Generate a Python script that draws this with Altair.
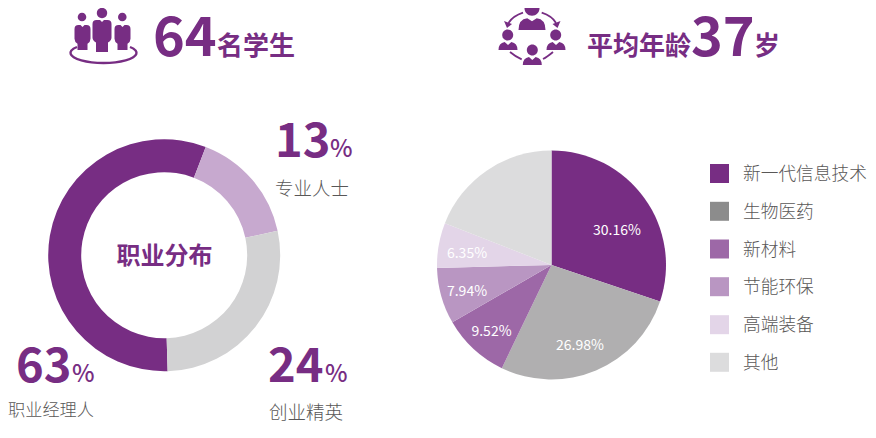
import math
import altair as alt

# ---------- data ----------
role_names = ["职业经理人", "专业人士", "创业精英"]
role_drawn = [56.3, 15.8, 27.9]          # arc shares as drawn
role_colors = ["#772d83", "#c7a9cf", "#d2d2d3"]
role_pct = ["63", "13", "24"]

sector_names = ["新一代信息技术", "生物医药", "新材料", "节能环保", "高端装备", "其他"]
sector_values = [30.16, 26.98, 9.52, 7.94, 6.35, 19.05]
sector_colors = ["#772d83", "#b0afb0", "#9d68a7", "#b996c2", "#e3d5e8", "#dcdcdd"]
legend_colors = ["#772d83", "#8c8c8c", "#9d68a7", "#b996c2", "#e3d5e8", "#dcdcdd"]

PURPLE = "#772d83"
GREY = "#595757"
FONT = "Noto Sans CJK SC"
OFF = 8  # page margin


def blank():
    return alt.Chart(alt.Data(values=[{}]))


def txt(s, x, y, size, weight=400, color=PURPLE, align="left"):
    return blank().mark_text(
        font=FONT, fontSize=size, fontWeight=weight, color=color, align=align, baseline="alphabetic"
    ).encode(x=alt.value(x - OFF), y=alt.value(y - OFF), text=alt.value(s))


def glyph(path, x, y, filled=True, sw=2.2):
    # size 4 makes one path unit equal one pixel
    kw = dict(fill=PURPLE) if filled else dict(fill="transparent", stroke=PURPLE, strokeWidth=sw)
    return blank().mark_point(shape=path, size=4, opacity=1, filled=filled, **kw).encode(
        x=alt.value(x - OFF), y=alt.value(y - OFF)
    )


def circle(cx, cy, r):
    return f"M{cx-r},{cy}a{r},{r} 0 1,0 {2*r},0a{r},{r} 0 1,0 {-2*r},0Z"


def body(cx, top, bot, hw, leg):
    m = top + 0.55 * (bot - top)
    r = 4
    return (
        f"M{cx-hw+r},{top}L{cx-2},{top}L{cx},{top+2}L{cx+2},{top}L{cx+hw-r},{top}"
        f"Q{cx+hw},{top} {cx+hw},{top+r}L{cx+hw},{m}Q{cx+hw},{m+3} {cx+leg},{m+5}L{cx+leg},{bot}L{cx-leg},{bot}L{cx-leg},{m+5}Q{cx-hw},{m+3} {cx-hw},{m}"
        f"L{cx-hw},{top+r}Q{cx-hw},{top} {cx-hw+r},{top}Z"
    )


def bust(cx, top, bot, hw):
    return (
        f"M{cx-hw},{bot}Q{cx-hw},{top+1} {cx-hw*0.35},{top}L{cx},{top+3}L{cx+hw*0.35},{top}"
        f"Q{cx+hw},{top+1} {cx+hw},{bot}Z"
    )


def arcs(names, values, colors, start_deg, cx, cy, outer, inner=0):
    a0 = math.radians(start_deg)
    rows = [{"n": n, "v": v, "c": c, "i": i} for i, (n, v, c) in enumerate(zip(names, values, colors))]
    return alt.Chart(alt.Data(values=rows)).mark_arc(outerRadius=outer, innerRadius=inner).encode(
        theta=alt.Theta("v:Q", stack=True, scale=alt.Scale(range=[a0, a0 + 2 * math.pi])),
        color=alt.Color("c:N", scale=None, legend=None),
        order=alt.Order("i:Q"),
        x=alt.value(cx - OFF),
        y=alt.value(cy - OFF),
    )


layers = [
    arcs(role_names, role_drawn, role_colors, 178.3, 164.2, 255.2, 116, 83),
    arcs(sector_names, sector_values, sector_colors, 0, 551.5, 265, 114.5),
]

# headers
layers += [
    txt("64", 153, 56, 54, 700),
    txt("名学生", 217, 55, 26, 700),
    txt("平均年龄", 587, 55, 26, 700),
    txt("37", 691, 56, 54, 700),
    txt("岁", 754, 55, 26, 700),
    txt("职业分布", 164.5, 264, 24, 700, align="center"),
]

# role call-outs: (number x, number baseline, percent x, label x, label baseline, label size)
callout_pos = [
    (16, 382, 72, 8, 416, 17.2),
    (275, 157, 330, 275, 195, 18.5),
    (268, 382, 325, 269, 419, 18.5),
]
for i, (nx, ny, px, lx, ly, ls) in enumerate(callout_pos):
    layers += [
        txt(role_pct[i], nx, ny, 47, 700),
        txt("%", px, ny, 24, 500),
        txt(role_names[i], lx, ly, ls, 300, GREY),
    ]

# pie labels
pie_label_pos = [(617, 235), (580, 350), (491.5, 336), (467, 296), (467, 258)]
for v, (x, y) in zip(sector_values, pie_label_pos):
    layers.append(txt(f"{v:.2f}%", x, y, 14, 400, "#ffffff", align="center"))

# legend
legend_y = [173.5, 211.3, 249, 286.7, 324.7, 362.3]
for n, c, y in zip(sector_names, legend_colors, legend_y):
    layers.append(
        blank().mark_square(size=361, color=c, opacity=1).encode(x=alt.value(719.5 - OFF), y=alt.value(y - OFF))
    )
    layers.append(txt(n, 743, y + 6.5, 17.7, 300, GREY))

# icon: three people on a ring
ox, oy = 103, 35
for p in [
    circle(-1, -22, 5.2), circle(-21, -18, 4.3), circle(19.3, -18, 4.3),
    body(-1, -15, 17, 9.5, 6), body(-20.5, -10, 15, 8, 5), body(19.5, -10, 15, 8, 5),
]:
    layers.append(glyph(p, ox, oy))
layers.append(glyph("M-26,12A33,10 0 1,0 27,12", ox, oy, filled=False, sw=2.4))

# icon: circle of people
ox, oy = 532, 35
for p in [
    circle(0, -26.7, 7.5), bust(0, -16.7, -5, 13.5),
    circle(-24.3, 0, 5.5), bust(-24, 7, 15, 9.5),
    circle(23.7, 0, 5.5), bust(24, 7, 15, 9.5),
    circle(0.3, 15, 5.5), bust(0.3, 22, 30, 9.5),
    "M-28,-14L-20,-11L-25,-7Z", "M28.5,-14L20.5,-11L25.5,-7Z",
]:
    layers.append(glyph(p, ox, oy))
for p in ["M-9,-22.3Q-19,-19 -23.5,-12", "M9.7,-22.3Q20,-19 24,-12", "M-22,17Q-16,22 -10.3,24.3", "M21,17Q15,22 11,24"]:
    layers.append(glyph(p, ox, oy, filled=False, sw=1.8))

chart = (
    alt.layer(*layers)
    .resolve_scale(theta="independent")
    .properties(
        width=860,
        height=422,
        padding=0,
        autosize=alt.AutoSizeParams(type="none"),
    )
    .configure_view(stroke=None)
)

chart.save("out.html", embed_options={"renderer": "svg", "actions": False})
